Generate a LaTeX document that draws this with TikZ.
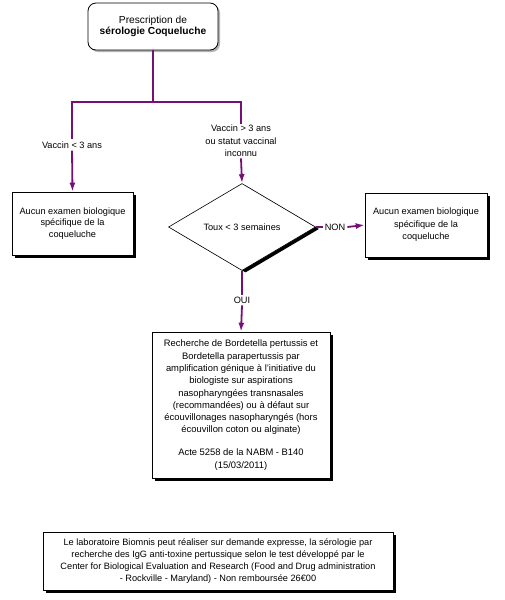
\documentclass[tikz,border=0pt]{standalone}
\usepackage{fontspec}
\setmainfont{Liberation Sans}
\usetikzlibrary{shapes.geometric,shadows,arrows.meta}
\definecolor{linkpurple}{RGB}{118,16,120}
\begin{document}
\begin{tikzpicture}[x=1pt,y=-1pt,
  txt/.style={font=\fontsize{9.2}{11.5}\selectfont, align=center},
  box/.style={txt, draw=black, line width=0.6pt, fill=white, inner sep=0pt,
    drop shadow={shadow xshift=3pt, shadow yshift=-3pt, fill=black, opacity=1}},
  topbox/.style={txt, draw=black, line width=0.8pt, fill=white, inner sep=0pt,
    rounded corners=8pt, font=\fontsize{10.2}{11.5}\selectfont,
    drop shadow={shadow xshift=2pt, shadow yshift=-2pt, fill=gray!60, opacity=1}},
  decision/.style={txt, diamond, draw=black, line width=0.6pt, fill=white, inner sep=0pt,
    drop shadow={shadow xshift=3.5pt, shadow yshift=-2pt, fill=black, opacity=1}},
  lab/.style={txt, inner sep=2pt},
  link/.style={draw=linkpurple, line width=1.8pt},
  arrowlink/.style={link, -{Latex[length=9pt,width=6pt]}},
]
\useasboundingbox (0,0) rectangle (504,600);

\node[topbox, minimum width=130pt, minimum height=47pt] (top) at (153,26.5)
  {Prescription de\\\textbf{sérologie Coqueluche}};

\node[box, minimum width=121pt, minimum height=63pt] (lbox) at (72.5,223.5)
  {Aucun examen biologique\\spécifique de la\\coqueluche};

\node[decision, minimum width=147pt, minimum height=87pt] (diam) at (242,227)
  {Toux < 3 semaines};

\node[box, font=\fontsize{9.2}{12.5}\selectfont, minimum width=122pt, minimum height=64pt] (rbox) at (426,225)
  {Aucun examen biologique\\spécifique de la\\coqueluche};

\node[box, font=\fontsize{9.4}{12.3}\selectfont, minimum width=178pt, minimum height=146pt] (big) at (241,405)
  {Recherche de Bordetella pertussis et\\
   Bordetella parapertussis par\\
   amplification génique à l'initiative du\\
   biologiste sur aspirations\\
   nasopharyngées transnasales\\
   (recommandées) ou à défaut sur\\
   écouvillonages nasopharyngés (hors\\
   écouvillon coton ou alginate)\\[10.5pt]
   Acte 5258 de la NABM - B140\\
   (15/03/2011)};

\node[box, font=\fontsize{9.2}{12}\selectfont, minimum width=350pt, minimum height=58pt] (bot) at (218,561)
  {Le laboratoire Biomnis peut réaliser sur demande expresse, la sérologie par\\
   recherche des IgG anti-toxine pertussique selon le test développé par le\\
   Center for Biological Evaluation and Research (Food and Drug administration\\
   - Rockville - Maryland) - Non remboursée 26€00};

\coordinate (split) at (153,102);
\node[lab] (lablft) at (72,145) {Vaccin < 3 ans};
\node[lab, font=\fontsize{9.2}{12.3}\selectfont, inner sep=1.5pt] (labrgt) at (241,141) {Vaccin > 3 ans\\ou statut vaccinal\\inconnu};
\node[lab] (non) at (335,227) {NON};
\node[lab] (oui) at (242,300) {OUI};

\draw[link] (top.south) -- (split);
\draw[link] (lablft.north) |- (split) -| (labrgt.north);
\draw[arrowlink] (lablft.south) -- (lbox.north);
\draw[arrowlink] (labrgt.south) -- (diam.north);
\draw[link] (diam.east) -- (non.west);
\draw[arrowlink] (non.east) -- (rbox.west);
\draw[link] (diam.south) -- (oui.north);
\draw[arrowlink] (oui.south) -- (big.north);
\end{tikzpicture}
\end{document}
